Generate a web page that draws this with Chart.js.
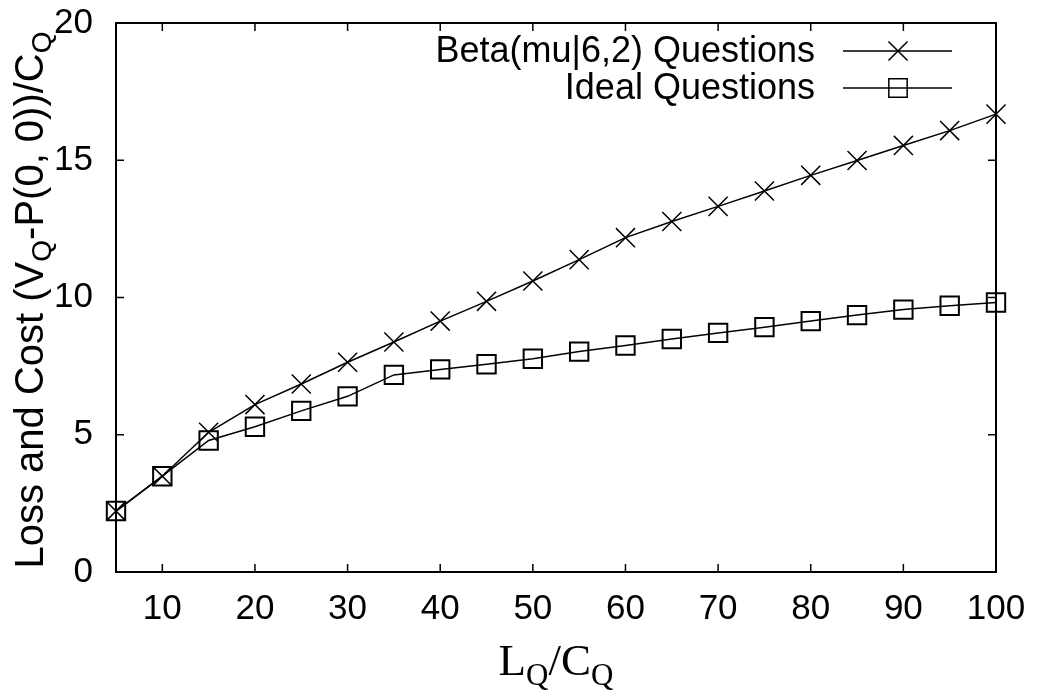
<!DOCTYPE html>
<html>
<head>
<meta charset="utf-8">
<script src="https://cdn.jsdelivr.net/npm/chart.js@4.4.1/dist/chart.umd.min.js"></script>
<style>
  html, body { margin: 0; padding: 0; background: #fff; }
  #wrap { width: 1038px; height: 695px; }
</style>
</head>
<body>
<div id="wrap"><canvas id="chart" width="1038" height="695"></canvas></div>
<script>
// values
const xValues = [5, 10, 15, 20, 25, 30, 35, 40, 45, 50, 55, 60, 65, 70, 75, 80, 85, 90, 95, 100];
const betaValues = [2.22, 3.49, 5.09, 6.10, 6.85, 7.64, 8.38, 9.14, 9.86, 10.60,
                    11.38, 12.18, 12.77, 13.32, 13.88, 14.45, 14.99, 15.54, 16.08, 16.68];
const idealValues = [2.22, 3.49, 4.79, 5.29, 5.87, 6.40, 7.18, 7.38, 7.57, 7.77,
                     8.03, 8.25, 8.49, 8.71, 8.92, 9.14, 9.36, 9.56, 9.70, 9.82];
const xTicks = [10, 20, 30, 40, 50, 60, 70, 80, 90, 100];
const yTicks = [0, 5, 10, 15, 20];
const seriesNames = ['Beta(mu|6,2) Questions', 'Ideal Questions'];

const SANS = '"Liberation Sans", Arial, sans-serif';
const SERIF = '"Liberation Serif", "Times New Roman", serif';

const toPoints = (ys) => xValues.map((x, i) => ({ x: x, y: ys[i] }));

// draw text pieces with subscripts, returns width
function drawRich(ctx, parts, x, y, measureOnly) {
  let cx = x;
  parts.forEach(p => {
    ctx.font = p.font;
    const w = ctx.measureText(p.t).width;
    if (!measureOnly) ctx.fillText(p.t, cx, y + (p.dy || 0));
    cx += w;
  });
  return cx - x;
}

// box, inward ticks, axis titles and legend (gnuplot look)
const framePlugin = {
  id: 'frame',
  afterDraw(chart) {
    const { ctx, chartArea: a, scales } = chart;
    const xs = scales.x, ys = scales.y;
    const tl = 8;
    ctx.save();
    ctx.strokeStyle = '#000';
    ctx.lineWidth = 2;
    ctx.strokeRect(a.left, a.top, a.right - a.left, a.bottom - a.top);
    ctx.lineWidth = 1.5;
    ctx.beginPath();
    xTicks.forEach(v => {
      const px = xs.getPixelForValue(v);
      ctx.moveTo(px, a.bottom); ctx.lineTo(px, a.bottom - tl);
      ctx.moveTo(px, a.top); ctx.lineTo(px, a.top + tl);
    });
    yTicks.forEach(v => {
      const py = ys.getPixelForValue(v);
      ctx.moveTo(a.left, py); ctx.lineTo(a.left + tl, py);
      ctx.moveTo(a.right, py); ctx.lineTo(a.right - tl, py);
    });
    ctx.stroke();

    ctx.fillStyle = '#000';
    ctx.textAlign = 'left';
    ctx.textBaseline = 'alphabetic';

    // x title: L_Q/C_Q
    const big = '45px ' + SERIF, sub = '31px ' + SERIF;
    const xParts = [
      { t: 'L', font: big }, { t: 'Q', font: sub, dy: 10 },
      { t: '/C', font: big }, { t: 'Q', font: sub, dy: 10 }
    ];
    const xw = drawRich(ctx, xParts, 0, 0, true);
    drawRich(ctx, xParts, 556 - xw / 2, 675);

    // y title, rotated
    const yf = '40px ' + SANS, ysub = '28px ' + SANS;
    const yParts = [
      { t: 'Loss and Cost (V', font: yf }, { t: 'Q', font: ysub, dy: 8 },
      { t: '-P(0, 0))/C', font: yf }, { t: 'Q', font: ysub, dy: 8 }
    ];
    const yw = drawRich(ctx, yParts, 0, 0, true);
    ctx.save();
    ctx.translate(43, 300);
    ctx.rotate(-Math.PI / 2);
    drawRich(ctx, yParts, -yw / 2, 0);
    ctx.restore();

    // legend
    const rows = [51, 88];
    chart.data.datasets.forEach((ds, i) => {
      const ry = rows[i];
      ctx.font = '36px ' + SANS;
      ctx.textAlign = 'right';
      ctx.textBaseline = 'middle';
      ctx.fillStyle = '#000';
      ctx.fillText(seriesNames[i], 815, ry + 1);
      ctx.lineWidth = 1.5;
      ctx.beginPath();
      ctx.moveTo(843, ry); ctx.lineTo(952, ry);
      ctx.stroke();
      ctx.fillStyle = 'rgba(0,0,0,0)';
      Chart.helpers.drawPoint(ctx, {
        pointStyle: ds.pointStyle, radius: ds.pointRadius, rotation: 0,
        borderWidth: ds.pointBorderWidth
      }, 898, ry);
    });
    ctx.restore();
  }
};

new Chart(document.getElementById('chart'), {
  type: 'line',
  data: {
    datasets: [
      {
        label: seriesNames[0],
        data: toPoints(betaValues),
        borderColor: '#000',
        borderWidth: 1.5,
        pointStyle: 'crossRot',
        pointRadius: 13.5,
        pointBorderColor: '#000',
        pointBorderWidth: 1.5,
        pointBackgroundColor: 'rgba(0,0,0,0)',
        tension: 0,
        clip: false
      },
      {
        label: seriesNames[1],
        data: toPoints(idealValues),
        borderColor: '#000',
        borderWidth: 1.5,
        pointStyle: 'rect',
        pointRadius: 13,
        pointBorderColor: '#000',
        pointBorderWidth: 2,
        pointBackgroundColor: 'rgba(0,0,0,0)',
        tension: 0,
        clip: false
      }
    ]
  },
  options: {
    responsive: false,
    animation: false,
    layout: { padding: { left: 0, top: 23, right: 42, bottom: 0 } },
    plugins: {
      legend: { display: false },
      tooltip: { enabled: false }
    },
    scales: {
      x: {
        type: 'linear',
        min: 5,
        max: 100,
        afterBuildTicks: (scale) => { scale.ticks = xTicks.map(v => ({ value: v })); },
        afterFit: (scale) => {
          scale.height = 123;
          scale.paddingLeft = 0;
          scale.paddingRight = 0;
        },
        grid: { display: false, drawTicks: false },
        border: { display: false },
        ticks: { color: '#000', padding: 16, maxRotation: 0, font: { family: SANS, size: 35 } }
      },
      y: {
        min: 0,
        max: 20,
        afterBuildTicks: (scale) => { scale.ticks = yTicks.map(v => ({ value: v })); },
        afterFit: (scale) => {
          scale.width = 116;
          scale.paddingTop = 0;
          scale.paddingBottom = 0;
        },
        grid: { display: false, drawTicks: false },
        border: { display: false },
        ticks: { color: '#000', padding: 23, font: { family: SANS, size: 35 } }
      }
    }
  },
  plugins: [framePlugin]
});
</script>
</body>
</html>
